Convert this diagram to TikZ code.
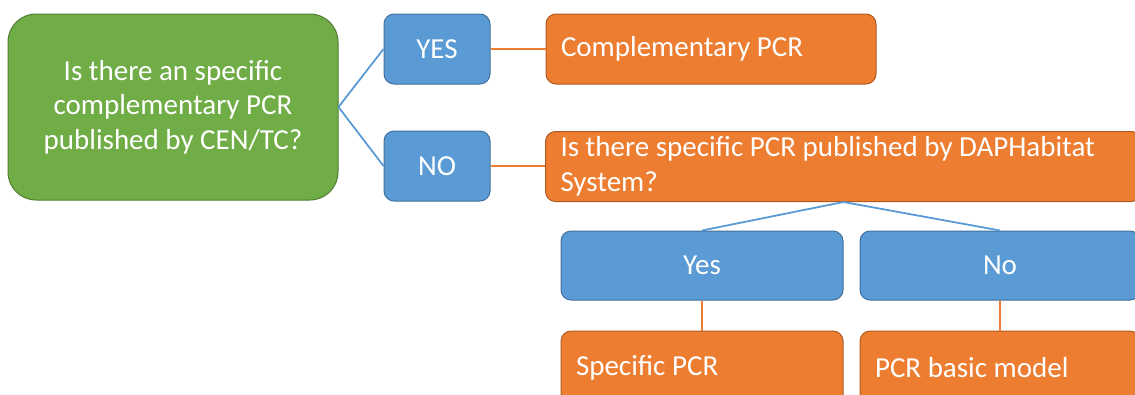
\documentclass[tikz,border=0pt]{standalone}
\usepackage{fontspec}
\setmainfont{Carlito}
\usetikzlibrary{positioning}
\definecolor{gF}{HTML}{70AD47}
\definecolor{gD}{HTML}{507E32}
\definecolor{bF}{HTML}{5B9BD5}
\definecolor{bD}{HTML}{41719C}
\definecolor{oF}{HTML}{ED7D31}
\definecolor{oD}{HTML}{AE5A21}
\tikzstyle{bl}=[every edge/.style={draw=bF,line width=1.8pt}]
\tikzstyle{ol}=[draw=oF,line width=1.8pt]
\tikzstyle{Aq}=[draw=gD,fill=gF,line width=1pt,rounded corners=28pt,text=white,align=center,
                minimum width=330pt,minimum height=186pt]
\tikzstyle{Aans}=[draw=bD,fill=bF,line width=1pt,rounded corners=10pt,text=white,
                minimum height=70pt,inner sep=0pt]
\tikzstyle{Ares}=[draw=oD,fill=oF,line width=1pt,rounded corners=10pt,text=white,
                minimum height=70pt,inner xsep=15pt,inner ysep=0pt,align=flush left]
\begin{document}
\begin{tikzpicture}[x=1pt,y=-1pt,bl,font=\fontsize{29}{34.5}\selectfont]
  \useasboundingbox (0,0) rectangle (1135,394);
  	\node[Aq] (q) at (173,107) {Is there an specific\\complementary PCR\\published by CEN/TC?};
  	\node[Aans,minimum width=106pt] (yes) at (437,49) {YES};
  	\node[Aans,minimum width=106pt] (no) at (437,166) {NO};
  	\path (q.east) edge (yes.west) edge (no.west);
    \node[Ares,text width=300pt,right=55pt of yes] (comp) {Complementary PCR};
    \node[Ares,text width=566pt,anchor=north west,minimum height=70pt,inner ysep=1.5pt] (dap) at (545,131)
      {Is there specific PCR published by DAPHabitat System?};
    \draw[ol] (yes) -- (comp);
    \draw[ol] (no) -- (no -| dap.west);
    \node[Aans,minimum width=282pt,minimum height=69pt] (yes_2) at (702,265.5) {Yes};
    \node[Aans,minimum width=280pt,minimum height=69pt] (no_2) at (1000,265.5) {No};
    \path (dap.south) edge (yes_2.north) edge (no_2.north);
    \node[Ares,text width=252pt,minimum height=74pt,below=30pt of yes_2] (spec) {Specific PCR};
    \node[Ares,text width=250pt,minimum height=74pt,below=30pt of no_2] (basic) {PCR basic model};
    \draw[ol] (yes_2) -- (spec);
    \draw[ol] (no_2) -- (basic);
\end{tikzpicture}
\end{document}
